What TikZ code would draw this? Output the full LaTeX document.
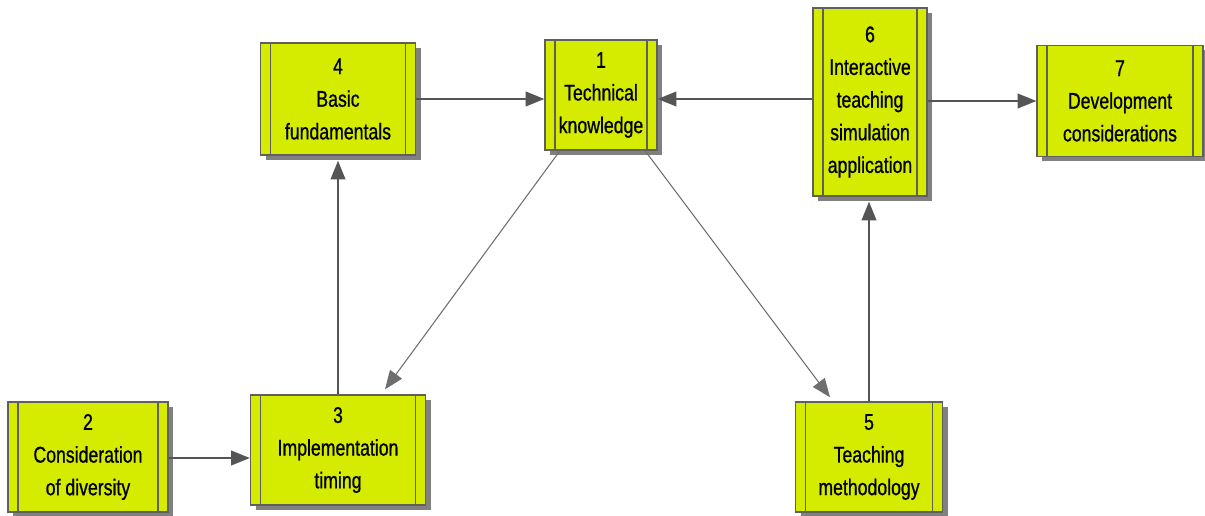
\documentclass[tikz,border=0pt]{standalone}
\usepackage{fontspec}
\setmainfont{Liberation Sans}[FakeStretch=0.78, FakeBold=0.8]
\usetikzlibrary{arrows.meta,shadows}
\definecolor{boxfill}{RGB}{213,235,0}
\definecolor{boxedge}{RGB}{95,95,95}
\definecolor{arrowgray}{RGB}{85,85,85}
\tikzset{
  procbox/.style={draw=boxedge, line width=1pt, rectangle, fill=boxfill, align=center, inner sep=0pt,
    font=\fontsize{17pt}{24.5pt}\selectfont,
    drop shadow={shadow xshift=3.75pt, shadow yshift=-3.75pt, fill=black!50, opacity=1},
    path picture={
      \draw[boxedge, line width=1pt] ([xshift=7.5pt]path picture bounding box.north west) -- ([xshift=7.5pt]path picture bounding box.south west);
      \draw[boxedge, line width=1pt] ([xshift=-7.5pt]path picture bounding box.north east) -- ([xshift=-7.5pt]path picture bounding box.south east);
    }},
  flow/.style={draw=arrowgray, line width=1.2pt, -{Triangle[length=14pt,width=11pt]}},
  slant/.style={draw=arrowgray!85, line width=0.8pt, -{Triangle[length=14pt,width=11pt]}}
}
\begin{document}
\begin{tikzpicture}[x=0.75pt, y=-0.75pt]
\useasboundingbox (0,0) rectangle (1205,516);
% process boxes
\node[procbox, minimum width=84pt, minimum height=82.5pt] (tech) at (601,95) {1\\Technical\\knowledge};
\node[procbox, minimum width=120pt, minimum height=82.5pt] (divers) at (88,457) {2\\Consideration\\of diversity};
\node[procbox, minimum width=131.25pt, minimum height=82.5pt] (timing) at (338,450) {3\\Implementation\\timing};
\node[procbox, minimum width=116.25pt, minimum height=84pt] (basic) at (338,99) {4\\Basic\\fundamentals};
\node[procbox, minimum width=110.25pt, minimum height=82.5pt] (method) at (869,457) {5\\Teaching\\methodology};
\node[procbox, minimum width=85.5pt, minimum height=141pt] (simul) at (870,102) {6\\Interactive\\teaching\\simulation\\application};
\node[procbox, minimum width=124.5pt, minimum height=83.25pt] (devel) at (1120,101) {7\\Development\\considerations};
% connectors
\draw[flow] (basic.east) -- (basic.east -| tech.west);
\draw[flow] (simul.west |- basic.east) -- (basic.east -| tech.east);
\draw[flow] (simul.east |- devel.west) -- (devel.west);
\draw[flow] (divers.east |- 0,458) -- (timing.west |- 0,458);
\draw[flow] (timing.north) -- ([yshift=-3.75pt]basic.south);
\draw[flow] (method.north) -- ([yshift=-3.75pt]method.north |- simul.south);
\draw[slant] ([xshift=-30.75pt]tech.south) -- ([xshift=35.25pt, yshift=3.75pt]timing.north);
\draw[slant] ([xshift=33pt]tech.south) -- ([xshift=-29.25pt, yshift=3pt]method.north);
\end{tikzpicture}
\end{document}
